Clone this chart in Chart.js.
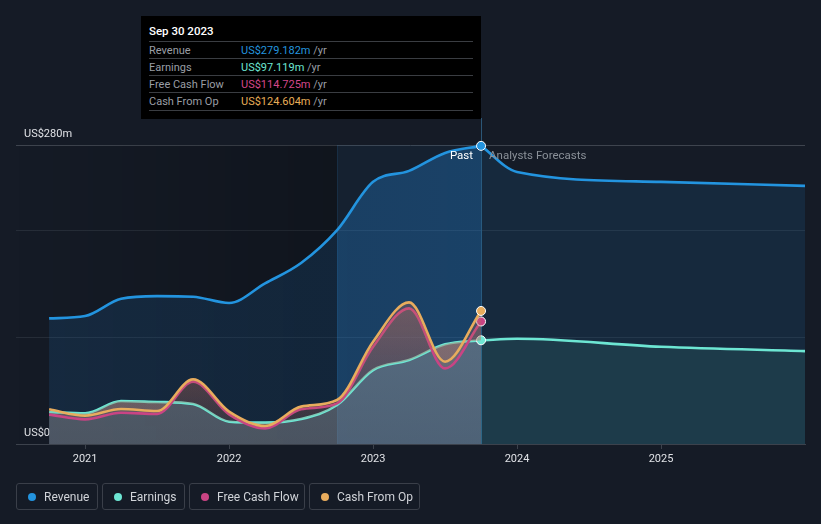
<!DOCTYPE html>
<html>
<head>
<meta charset="utf-8">
<script src="https://cdn.jsdelivr.net/npm/chart.js@4.4.0/dist/chart.umd.min.js"></script>
<style>
  html, body { margin: 0; padding: 0; background: #151b26; }
  body { width: 821px; height: 524px; position: relative; overflow: hidden; font-family: Roboto, "Open Sans", sans-serif; }
  #wrap { position: absolute; left: 0; top: 0; width: 821px; height: 524px; }
  .tip { position: absolute; left: 141px; top: 16px; width: 340px; height: 103px; background: #000; color: #fff; font-size: 11px; }
  .tip .date { position: absolute; left: 8px; top: 8px; font-size: 11.5px; font-weight: 500; }
  .tip .row { position: absolute; left: 8px; width: 324px; height: 17px; border-top: 1px solid #3a3d42; }
  .tip .row .k { position: absolute; left: 0; top: 2px; color: #9a9ea5; }
  .tip .row .v { position: absolute; left: 92px; top: 2px; }
  .tip .row .u { color: #9a9ea5; }
  .tip .end { position: absolute; left: 8px; width: 324px; top: 94px; border-top: 1px solid #3a3d42; }
  .legend { position: absolute; top: 483px; height: 27px; box-sizing: border-box; border: 1px solid #3a3f49; border-radius: 3px; color: #d0d3d8; font-size: 12px; }
  .legend .dot { position: absolute; left: 11px; top: 9px; width: 8px; height: 8px; border-radius: 50%; }
  .legend .lab { position: absolute; left: 27px; top: 6px; white-space: nowrap; }
</style>
</head>
<body>
<div id="wrap"><canvas id="c" width="821" height="524"></canvas></div>

<div class="tip">
  <div class="date">Sep 30 2023</div>
  <div class="row" style="top:25px"><span class="k">Revenue</span><span class="v"><span style="color:#2394df">US$279.182m</span> <span class="u">/yr</span></span></div>
  <div class="row" style="top:42px"><span class="k">Earnings</span><span class="v"><span style="color:#6de6d3">US$97.119m</span> <span class="u">/yr</span></span></div>
  <div class="row" style="top:59px"><span class="k">Free Cash Flow</span><span class="v"><span style="color:#d4478a">US$114.725m</span> <span class="u">/yr</span></span></div>
  <div class="row" style="top:76px"><span class="k">Cash From Op</span><span class="v"><span style="color:#e8ad57">US$124.604m</span> <span class="u">/yr</span></span></div>
  <div class="end"></div>
</div>

<div class="legend" style="left:16px;width:82px"><span class="dot" style="background:#2394df"></span><span class="lab">Revenue</span></div>
<div class="legend" style="left:102px;width:83px"><span class="dot" style="background:#6de6d3"></span><span class="lab">Earnings</span></div>
<div class="legend" style="left:189px;width:116px"><span class="dot" style="background:#c94484"></span><span class="lab">Free Cash Flow</span></div>
<div class="legend" style="left:309px;width:111px"><span class="dot" style="background:#e8ac5d"></span><span class="lab">Cash From Op</span></div>

<script>
// quarter ends as fractional years (Sep 30 2020 ... Sep 30 2023)
const pastX = [2020.75, 2021.0, 2021.25, 2021.5, 2021.75, 2022.0, 2022.25, 2022.5, 2022.75, 2023.0, 2023.25, 2023.5, 2023.75];
const revenuePast = [117.6, 119.8, 136.0, 138.5, 137.9, 132.0, 150.4, 169.5, 200.3, 245.5, 255.8, 272.6, 279.182];
const earningsPast = [30.0, 28.7, 40.2, 39.3, 37.4, 20.9, 20.0, 23.4, 36.5, 69.2, 78.6, 93.3, 97.119];
const fcfPast = [27.5, 23.1, 29.3, 28.1, 58.3, 27.8, 14.6, 32.5, 38.1, 91.0, 127.0, 70.8, 114.725];
const cfoPast = [32.5, 26.5, 32.8, 30.9, 60.5, 30.3, 16.8, 35.0, 41.2, 95.8, 132.6, 77.0, 124.604];

// analyst forecasts
const forecastX = [2023.75, 2024.0, 2025.0, 2026.0];
const revenueForecast = [279.182, 254.8, 245.5, 241.7];
const earningsForecast = [97.119, 98.5, 91.0, 87.0];

const yearTicks = [2021, 2022, 2023, 2024, 2025];
const yTicks = [0, 100, 200, 280];
const yLabels = { 0: 'US$0', 280: 'US$280m' };

const xMin = 2020.52;
const xMax = 2026.0;
const bandStart = 2022.75;
const nowX = 2023.75;

// dataset indexes, first one is drawn on top
const CFO = 0, FCF = 1, EARN = 2;

function pts(xs, ys) {
  return xs.map((x, i) => ({ x: x, y: ys[i] }));
}

function lastPoint(n, r) {
  return (ctx) => (ctx.dataIndex === n - 1 ? r : 0);
}

function pastFill(ctx) {
  const chart = ctx.chart;
  const a = chart.chartArea;
  if (!a) return 'rgba(30,110,180,0.18)';
  const sx = chart.scales.x;
  const b = (sx.getPixelForValue(bandStart) - a.left) / (a.right - a.left);
  const g = chart.ctx.createLinearGradient(a.left, 0, a.right, 0);
  g.addColorStop(0, 'rgba(30,110,180,0.18)');
  g.addColorStop(b, 'rgba(30,110,180,0.19)');
  g.addColorStop(Math.min(1, b + 0.0001), 'rgba(35,130,210,0.32)');
  g.addColorStop(1, 'rgba(35,130,210,0.38)');
  return g;
}

function verticalFill(stops) {
  return (ctx) => {
    const chart = ctx.chart;
    const a = chart.chartArea;
    if (!a) return stops[0][1];
    const sy = chart.scales.y;
    const g = chart.ctx.createLinearGradient(0, a.bottom, 0, a.top);
    stops.forEach(([v, c]) => g.addColorStop(Math.min(1, (a.bottom - sy.getPixelForValue(v)) / (a.bottom - a.top)), c));
    return g;
  };
}

const greyFill = verticalFill([[0, 'rgba(130,130,135,0.50)'], [100, 'rgba(140,144,150,0.52)'], [280, 'rgba(160,162,168,0.55)']]);
const cashFill = verticalFill([[0, 'rgba(180,105,90,0.08)'], [60, 'rgba(180,105,90,0.2)'], [130, 'rgba(188,112,95,0.3)'], [280, 'rgba(188,112,95,0.3)']]);

const backdrop = {
  id: 'backdrop',
  beforeDatasetsDraw(chart) {
    const { ctx, chartArea: a, scales: { x } } = chart;
    const bx = x.getPixelForValue(bandStart);
    const nx = x.getPixelForValue(nowX);
    ctx.save();
    const g = ctx.createLinearGradient(a.left, 0, bx, 0);
    g.addColorStop(0, 'rgba(0,0,0,0)');
    g.addColorStop(1, 'rgba(0,0,0,0.22)');
    ctx.fillStyle = g;
    ctx.fillRect(a.left, a.top, bx - a.left, a.bottom - a.top);
    ctx.fillStyle = 'rgba(30,110,180,0.07)';
    ctx.fillRect(bx, a.top, nx - bx, a.bottom - a.top);
    ctx.strokeStyle = 'rgba(40,90,130,0.25)';
    ctx.lineWidth = 1;
    ctx.beginPath();
    ctx.moveTo(Math.round(bx) + 0.5, a.top);
    ctx.lineTo(Math.round(bx) + 0.5, a.bottom);
    ctx.stroke();
    ctx.strokeStyle = '#2b5676';
    ctx.beginPath();
    ctx.moveTo(Math.round(nx) + 0.5, 118);
    ctx.lineTo(Math.round(nx) + 0.5, a.bottom);
    ctx.stroke();
    ctx.restore();
  },
  afterDatasetsDraw(chart) {
    const { ctx, scales: { x } } = chart;
    const nx = x.getPixelForValue(nowX);
    ctx.save();
    ctx.font = '11.5px Roboto, sans-serif';
    ctx.textBaseline = 'middle';
    ctx.textAlign = 'right';
    ctx.fillStyle = '#ffffff';
    ctx.fillText('Past', nx - 8, 156);
    ctx.textAlign = 'left';
    ctx.fillStyle = '#8a9098';
    ctx.fillText('Analysts Forecasts', nx + 8, 156);
    ctx.restore();
  }
};

function lineSet(label, data, color, fill, bg, n) {
  return {
    label: label,
    data: data,
    borderColor: color,
    borderWidth: 2.6,
    backgroundColor: bg,
    fill: fill,
    cubicInterpolationMode: 'monotone',
    pointRadius: n ? lastPoint(n, 4.5) : 0,
    pointBackgroundColor: color,
    pointBorderColor: '#ffffff',
    pointBorderWidth: 1,
    clip: false
  };
}

new Chart(document.getElementById('c'), {
  type: 'line',
  data: {
    datasets: [
      lineSet('Cash From Op', pts(pastX, cfoPast), '#e8ac5d', { target: EARN }, cashFill, pastX.length),
      lineSet('Free Cash Flow', pts(pastX, fcfPast), '#c94484', { target: EARN }, cashFill, pastX.length),
      lineSet('Earnings', pts(pastX, earningsPast), '#6de6d3', 'origin', greyFill, pastX.length),
      lineSet('Earnings forecast', pts(forecastX, earningsForecast), '#6de6d3', 'origin', 'rgba(100,220,200,0.10)', 0),
      lineSet('Revenue', pts(pastX, revenuePast), '#2394df', 'origin', pastFill, pastX.length),
      lineSet('Revenue forecast', pts(forecastX, revenueForecast), '#2394df', 'origin', 'rgba(30,110,180,0.17)', 0)
    ]
  },
  options: {
    responsive: false,
    animation: false,
    layout: { padding: { left: 16, right: 16, top: 145, bottom: 0 } },
    plugins: {
      legend: { display: false },
      tooltip: { enabled: false }
    },
    scales: {
      x: {
        type: 'linear',
        min: xMin,
        max: xMax,
        afterBuildTicks: (s) => { s.ticks = yearTicks.map((v) => ({ value: v })); },
        afterFit: (s) => { s.height = 80; },
        ticks: { color: '#e0e2e6', font: { family: 'Roboto', size: 11 }, padding: 4, callback: (v) => String(v) },
        grid: { drawOnChartArea: false, drawTicks: true, tickLength: 5, color: '#3c424c' },
        border: { color: '#3c424c' }
      },
      y: {
        min: 0,
        max: 280,
        afterBuildTicks: (s) => { s.ticks = yTicks.map((v) => ({ value: v })); },
        afterFit: (s) => { s.width = 0; },
        ticks: {
          mirror: true,
          padding: 8,
          labelOffset: -11,
          color: '#e0e2e6',
          font: { family: 'Roboto', size: 11 },
          callback: (v) => yLabels[v] || ''
        },
        grid: {
          drawTicks: false,
          color: (c) => (c.tick && c.tick.value === 280 ? '#3e444e' : '#262d38')
        },
        border: { display: false }
      }
    }
  },
  plugins: [backdrop]
});
</script>
</body>
</html>
